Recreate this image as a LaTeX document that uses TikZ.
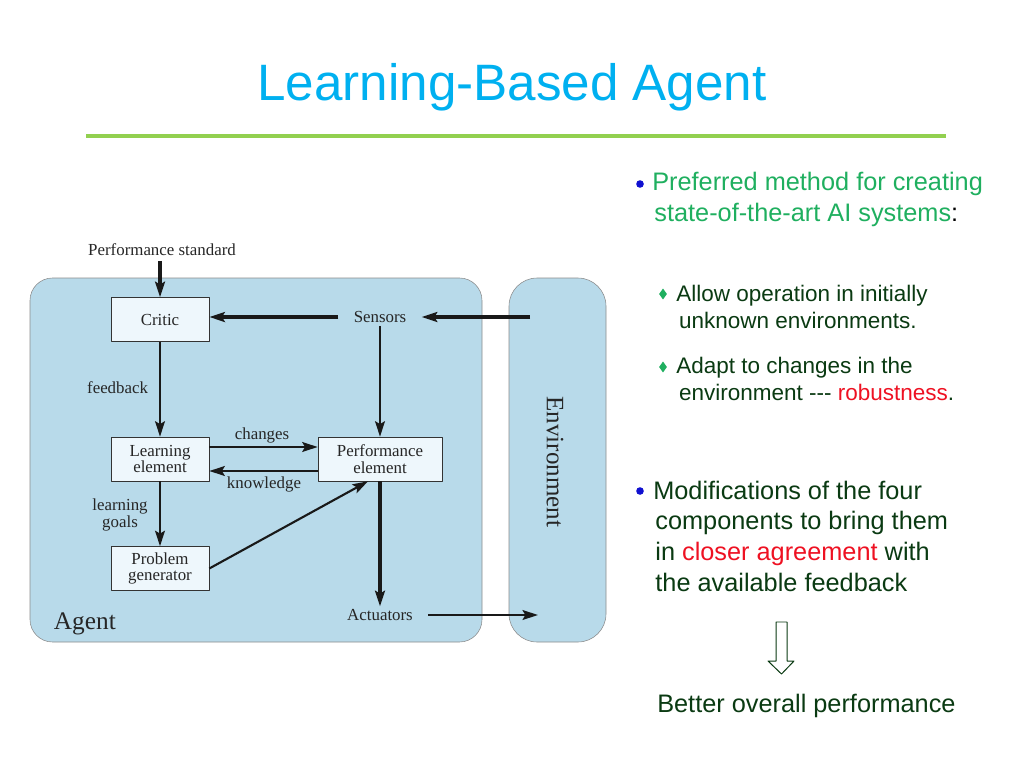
\documentclass[tikz,border=0pt]{standalone}
\usepackage{fontspec}
\setmainfont{Liberation Serif}
\newfontfamily\slidefont{Liberation Sans}
\usetikzlibrary{positioning,arrows.meta,shapes.geometric}
\definecolor{titleblue}{HTML}{00B0F0}
\definecolor{rulegreen}{HTML}{92D050}
\definecolor{agentfill}{HTML}{B8DAEA}
\definecolor{boxfill}{HTML}{EEF7FC}
\definecolor{headgreen}{HTML}{1FAF5F}
\definecolor{textgreen}{HTML}{0A3A12}
\definecolor{hotred}{HTML}{EE1122}
\definecolor{dotblue}{HTML}{1010D0}
\begin{document}
\begin{tikzpicture}[x=0.025cm,y=-0.025cm,line join=round,>={Stealth[length=11pt,width=7pt,inset=2pt]},
		comp/.style={draw=black!80, fill=boxfill, minimum width=2.45cm, minimum height=1.1cm, align=center, inner sep=1pt, font=\fontsize{12}{12}\selectfont, text=black!85},
		lbl/.style={font=\fontsize{12}{12.5}\selectfont, text=black!85},
		flow/.style={->, line width=1.5pt, draw=black!90},
		heavy/.style={line width=2.2pt},
		slide/.style={font=\slidefont\fontsize{18}{21.7}\selectfont, align=left, anchor=base west, inner sep=0pt},
		subslide/.style={font=\slidefont\fontsize{16}{19}\selectfont, align=left, anchor=base west, inner sep=0pt, text=textgreen},
		dot/.style={circle, fill=dotblue, inner sep=0pt, minimum size=0.19cm},
		gem/.style={diamond, fill=headgreen, inner sep=0pt, minimum width=0.2cm, minimum height=0.28cm}]
	\useasboundingbox (0,0) rectangle (1024,768);
	
	% title
	\node[anchor=base, text=titleblue, font=\slidefont\fontsize{36.4}{44}\selectfont] (title) at (512,101) {Learning-Based Agent};
	\draw[rulegreen, line width=3pt] (86,136) -- (946,136);
	
	% agent and environment
	\draw[draw=black!45, fill=agentfill, rounded corners=16pt] (30,278) rectangle (482,642);
	\draw[draw=black!45, fill=agentfill, rounded corners=20pt] (509,278) rectangle (606,642);
	\node[anchor=west, font=\fontsize{18}{19}\selectfont, text=black!85] (agent) at (49,624) {Agent};
	\node[rotate=-90, font=\fontsize{17.8}{19}\selectfont, text=black!85] (env) at (555,462) {Environment};
	
	% components
	\node[comp] (critic) at (160,319.5) {Critic};
	\node[comp] (learn) at (160,459) {Learning\\element};
	\node[comp] (gen) at (160,568.5) {Problem\\generator};
	\node[comp, minimum width=3.1cm] (perf) at (380,459) {Performance\\element};
	\node[lbl, inner xsep=0.38cm, inner ysep=2pt] (sensors) at (380,317) {Sensors};
	\node[lbl, inner xsep=0.38cm, inner ysep=2pt] (act) at (380,615) {Actuators};
	\node[lbl] (std) at (162,250) {Performance standard};
	\coordinate (envin) at (530,317);
	\coordinate (envout) at (538,615);
	
	% connectors
	\draw[flow, heavy] (std.south -| critic) -- (critic);
	\draw[flow, heavy] (sensors.west) -- (sensors.west -| critic.east);
	\draw[flow, heavy] (envin) -- (sensors);
	\draw[flow] (sensors) -- (perf);
	\draw[flow, heavy] (perf) -- (act);
	\draw[flow] (act) -- (envout);
	\draw[flow] (critic) -- (learn);
	\draw[flow] ([yshift=0.3cm]learn.east) -- ([yshift=0.3cm]perf.west);
	\draw[flow] ([yshift=-0.3cm]perf.west) -- ([yshift=-0.3cm]learn.east);
	\draw[flow] (learn) -- (gen);
	\draw[flow] (gen.east) -- ([xshift=-0.3cm]perf.south);
	\node[lbl, anchor=east] (fb) at (153,388) {feedback};
	\node[lbl, align=center] (goals) at (120,515) {learning\\goals};
	\node[lbl] (chg) at (262,435) {changes};
	\node[lbl] (know) at (264,484) {knowledge};
	
	% slide text
	\node[dot] (dot1) at (640,184) {};
	\node[slide, text=headgreen] (pref) at (652,221.5) {Preferred method for creating\\\hspace{1.5pt}state-of-the-art AI systems\textcolor{black}{:}};
	\node[gem] (gem1) at (663,294) {};
	\node[subslide] (allow) at (676,328) {Allow operation in initially\\\hspace{2pt}unknown environments.};
	\node[gem] (gem2) at (663,367) {};
	\node[subslide] (adapt) at (676,400) {Adapt to changes in the\\\hspace{2pt}environment --{}- \textcolor{hotred}{robustness}.};
	\node[dot] (dot2) at (640,491) {};
	\node[slide, text=textgreen] (mod) at (653,591) {Modifications of the four\\\hspace{1.5pt}components to bring them\\\hspace{1.5pt}in \textcolor{hotred}{closer agreement} with\\\hspace{1.5pt}the available feedback};
	\draw[textgreen, line width=0.7pt, fill=white] (776,622) -- (787,622) -- (787,661) -- (794,661) -- (781.5,674) -- (768,661) -- (776,661) -- cycle;
	\node[slide, text=textgreen] (better) at (657,712) {Better overall performance};
\end{tikzpicture}
\end{document}
